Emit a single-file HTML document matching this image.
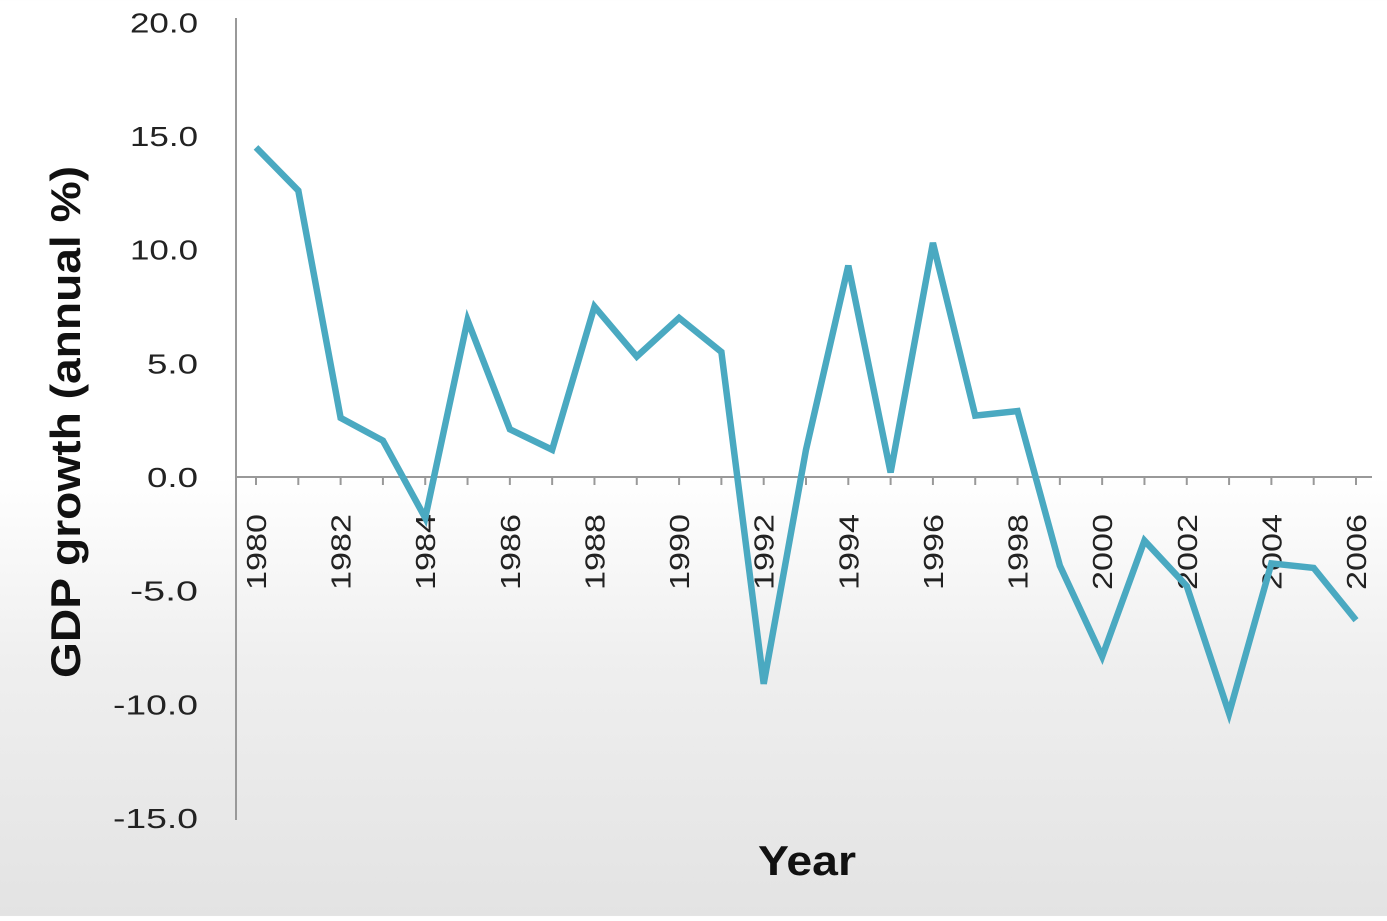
<!DOCTYPE html>
<html><head><meta charset="utf-8">
<style>
html,body{margin:0;padding:0;}
body{width:1387px;height:916px;overflow:hidden;background:linear-gradient(to bottom,#ffffff 0%,#ffffff 52%,#efefef 72%,#e3e3e3 100%);font-family:"Liberation Sans",sans-serif;}
</style></head>
<body>
<svg id="chart" width="1387" height="916" xmlns="http://www.w3.org/2000/svg"></svg>
<script>
const years=[1980,1981,1982,1983,1984,1985,1986,1987,1988,1989,1990,1991,1992,1993,1994,1995,1996,1997,1998,1999,2000,2001,2002,2003,2004,2005,2006];
const growth=[14.5,12.6,2.6,1.6,-1.8,6.9,2.1,1.2,7.5,5.3,7.0,5.5,-9.1,1.2,9.3,0.2,10.3,2.7,2.9,-3.9,-7.9,-2.8,-4.8,-10.4,-3.8,-4.0,-6.3];
const yTicks=[20,15,10,5,0,-5,-10,-15];
const xLabelYears=[1980,1982,1984,1986,1988,1990,1992,1994,1996,1998,2000,2002,2004,2006];

const svg=document.getElementById('chart');
const NS='http://www.w3.org/2000/svg';
const xs=y=>256+(y-1980)*(1100/26);
const ys=v=>477-v*22.73;
function mk(t,a){const e=document.createElementNS(NS,t);for(const k in a)e.setAttribute(k,a[k]);svg.appendChild(e);return e;}

let ax=mk('line',{x1:236,y1:18,x2:236,y2:820,stroke:'#999','stroke-width':2});


let xa=mk('line',{x1:236,y1:477,x2:1372,y2:477,stroke:'#999','stroke-width':2});



yTicks.forEach(v=>{
  const s=v.toFixed(1);
  const t=mk('text',{x:198,y:ys(v)+10,'text-anchor':'end','font-size':28,fill:'#222',textLength:s.length*17,lengthAdjust:'spacingAndGlyphs'});
  t.textContent=s;
  
  
});
years.forEach(y=>{
  const tk=mk('line',{x1:xs(y),y1:477,x2:xs(y),y2:485,stroke:'#999','stroke-width':2});
  
  
});
xLabelYears.forEach(y=>{
  const x=xs(y)+10,yy=514;
  const t=mk('text',{x:x,y:yy,'text-anchor':'end','font-size':28,fill:'#222',textLength:76,lengthAdjust:'spacingAndGlyphs',transform:`rotate(-90 ${x} ${yy})`});
  t.textContent=y;
  
  
});
const pts=years.map((y,i)=>xs(y)+','+ys(growth[i])).join(' ');
const line=mk('polyline',{points:pts,fill:'none',stroke:'#4aa9c1','stroke-width':6.5,'stroke-linejoin':'miter'});



const yt=mk('text',{x:80,y:422,'text-anchor':'middle','font-size':42,'font-weight':'bold',fill:'#111',textLength:512,lengthAdjust:'spacingAndGlyphs',transform:'rotate(-90 80 422)'});
yt.textContent='GDP growth (annual %)';


const xt=mk('text',{x:807,y:875,'text-anchor':'middle','font-size':42,'font-weight':'bold',fill:'#111',textLength:98,lengthAdjust:'spacingAndGlyphs'});
xt.textContent='Year';


</script>
</body></html>
